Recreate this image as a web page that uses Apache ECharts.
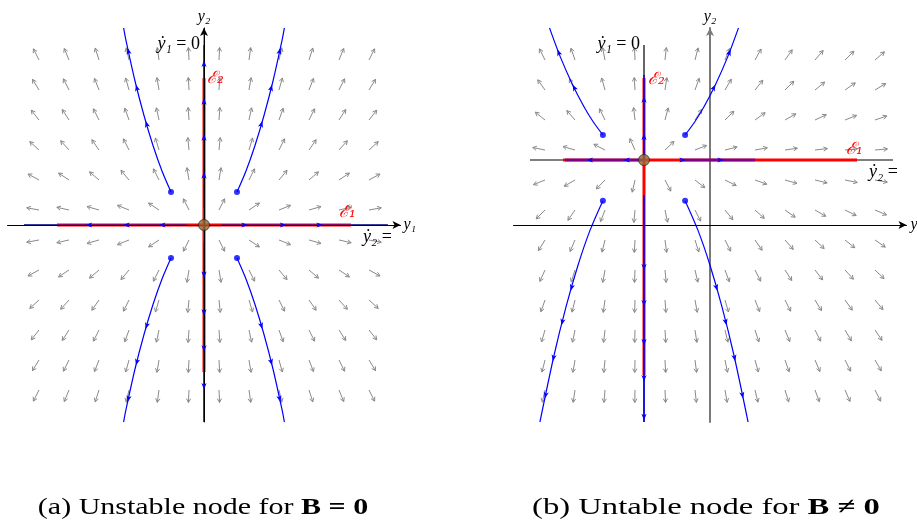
<!DOCTYPE html>
<html>
<head>
<meta charset="utf-8">
<script src="https://cdn.jsdelivr.net/npm/echarts@6/dist/echarts.min.js"></script>
<style>
  html, body { margin: 0; padding: 0; background: #fff; }
  #chart { width: 917px; height: 523px; }
</style>
</head>
<body>
<div id="chart"></div>
<script>
// Linear system  y' = diag(eigenvalues) * (y - y*), shown as a phase portrait
const eigenvalues = [1, 2];

// Tails of the direction-field arrows (same lattice in both panels)
const fieldCols = [-5.5, -4.5, -3.5, -2.5, -1.5, -0.5, 0.5, 1.5, 2.5, 3.5, 4.5, 5.5];
const fieldRows = [-5.5, -4.5, -3.5, -2.5, -1.5, -0.5, 0.5, 1.5, 2.5, 3.5, 4.5, 5.5];

// ---------- Panel (a): B = 0 ----------
const eqA = [0, 0];
const nullY1A = [[0, -6.57], [0, 6.0]];      // y1' = 0
const nullY2A = [[-6.0, 0], [6.13, 0]];      // y2' = 0
const eig1A = [[-4.9, 0], [4.9, 0]];         // E1
const eig2A = [[0, -4.9], [0, 4.9]];         // E2
const orbitsA = [
  [[1.1, 1.1], [1.4, 1.8], [1.7, 2.65], [2.0, 3.65], [2.3, 4.8], [2.6, 6.15], [2.68, 6.57]],
  [[-1.1, 1.1], [-1.4, 1.8], [-1.7, 2.65], [-2.0, 3.65], [-2.3, 4.8], [-2.6, 6.15], [-2.68, 6.57]],
  [[1.1, -1.1], [1.4, -1.8], [1.7, -2.65], [2.0, -3.65], [2.3, -4.8], [2.6, -6.15], [2.68, -6.57]],
  [[-1.1, -1.1], [-1.4, -1.8], [-1.7, -2.65], [-2.0, -3.65], [-2.3, -4.8], [-2.6, -6.15], [-2.68, -6.57]]
];
const orbitArrowsA = [[0.42, 0.64, 0.86], [0.42, 0.64, 0.86], [0.42, 0.64, 0.86], [0.42, 0.64, 0.86]];
const axisOrbitsA = [
  [[0, 0.57], [0, 6.57]],
  [[0, -0.57], [0, -6.57]],
  [[-0.57, 0], [-6.0, 0]],
  [[0.57, 0], [6.13, 0]]
];
const axisOrbitArrowsA = [[0.18, 0.39, 0.59, 0.8], [0.18, 0.39, 0.59, 0.8], [0.15, 0.37, 0.6], [0.14, 0.37, 0.59]];

// ---------- Panel (b): B != 0 ----------
const eqB = [-2.2, 2.167];
const nullY1B = [[-2.2, -6.57], [-2.2, 6.0]];
const nullY2B = [[-6.0, 2.167], [6.1, 2.167]];
const eig1B = [[-4.9, 2.167], [4.9, 2.167]];
const eig2B = [[-2.2, -5.0], [-2.2, 4.9]];
const orbitsB = [
  [[-0.83, 3.0], [-0.5, 3.45], [-0.2, 3.94], [0.2, 4.72], [0.6, 5.63], [0.95, 6.57]],
  [[-3.57, 3.0], [-3.9, 3.45], [-4.2, 3.94], [-4.6, 4.72], [-5.0, 5.63], [-5.35, 6.57]],
  [[-0.83, 0.81], [-0.4, -0.18], [0.0, -1.34], [0.4, -2.73], [0.8, -4.35], [1.27, -6.57]],
  [[-3.57, 0.81], [-4.0, -0.18], [-4.4, -1.34], [-4.8, -2.73], [-5.2, -4.35], [-5.67, -6.57]]
];
const orbitArrowsB = [[0.46, 0.78], [0.46, 0.78], [0.4, 0.555, 0.715, 0.88], [0.4, 0.555, 0.715, 0.88]];
const axisOrbitsB = [
  [[-2.2, 2.167], [-2.2, 5.0]],
  [[-2.2, 1.0], [-2.2, -6.57]],
  [[-2.2, 2.167], [-4.83, 2.167]],
  [[-0.95, 2.167], [1.5, 2.167]]
];
const axisOrbitArrowsB = [[0.27, 0.71], [0.317, 0.476, 0.647, 0.806, 0.977], [0.216, 0.684], [0.01, 0.53]];

// ---------- styling ----------
const SERIF = "'Liberation Serif', 'DejaVu Serif', serif";
const BLUE = '#0000ff', RED = '#ff0000', GRAY = '#8a8a8a';
const RICH = {
  i: { fontFamily: SERIF, fontStyle: 'italic', fontSize: 18 },
  s: { fontFamily: SERIF, fontSize: 18 },
  e: { fontFamily: "'DejaVu Serif', serif", fontStyle: 'italic', fontSize: 17 }
};

function seg(gi, pts, color, width, z, extra) {
  return Object.assign({
    type: 'line', xAxisIndex: gi, yAxisIndex: gi, data: pts,
    showSymbol: false, symbol: 'none', silent: true, z: z, animation: false,
    lineStyle: { color: color, width: width }
  }, extra || {});
}

function fieldSeries(gi, eq) {
  const pts = [];
  fieldRows.forEach(y => fieldCols.forEach(x => pts.push([x, y])));
  return {
    type: 'custom', xAxisIndex: gi, yAxisIndex: gi, z: 1, silent: true, animation: false,
    data: pts,
    renderItem(params, api) {
      const x = api.value(0), y = api.value(1);
      const p = api.coord([x, y]);
      const q = api.coord([x + eigenvalues[0] * (x - eq[0]) * 0.01, y + eigenvalues[1] * (y - eq[1]) * 0.01]);
      let dx = q[0] - p[0], dy = q[1] - p[1];
      const n = Math.hypot(dx, dy) || 1; dx /= n; dy /= n;
      const L = 12.5, h = 4.4, a = 0.5;
      const tip = [p[0] + dx * L, p[1] + dy * L];
      const bx = -dx, by = -dy, c = Math.cos(a), s = Math.sin(a);
      const w1 = [tip[0] + h * (bx * c - by * s), tip[1] + h * (bx * s + by * c)];
      const w2 = [tip[0] + h * (bx * c + by * s), tip[1] + h * (-bx * s + by * c)];
      return {
        type: 'group', children: [
          { type: 'line', shape: { x1: p[0], y1: p[1], x2: tip[0], y2: tip[1] }, style: { stroke: GRAY, lineWidth: 1 } },
          { type: 'polyline', shape: { points: [w1, tip, w2] }, style: { stroke: GRAY, lineWidth: 1, fill: null } }
        ]
      };
    }
  };
}

function arrowHeads(gi, paths, fractions) {
  const items = [];
  paths.forEach((pth, k) => fractions[k].forEach(f => items.push([k, f])));
  return {
    type: 'custom', xAxisIndex: gi, yAxisIndex: gi, z: 6, silent: true, animation: false,
    data: items,
    renderItem(params, api) {
      const it = items[params.dataIndex];
      const px = paths[it[0]].map(v => api.coord(v));
      const lens = [];
      let total = 0;
      for (let i = 1; i < px.length; i++) {
        const l = Math.hypot(px[i][0] - px[i - 1][0], px[i][1] - px[i - 1][1]);
        lens.push(l); total += l;
      }
      let target = it[1] * total, i = 0;
      while (i < lens.length - 1 && target > lens[i]) { target -= lens[i]; i++; }
      const t = lens[i] ? target / lens[i] : 0;
      const pos = [px[i][0] + (px[i + 1][0] - px[i][0]) * t, px[i][1] + (px[i + 1][1] - px[i][1]) * t];
      const dx = (px[i + 1][0] - px[i][0]) / lens[i], dy = (px[i + 1][1] - px[i][1]) / lens[i];
      const nx = -dy, ny = dx;
      const tip = [pos[0] + dx * 3.5, pos[1] + dy * 3.5];
      const back = [pos[0] - dx * 3, pos[1] - dy * 3];
      const notch = [pos[0] - dx * 1.4, pos[1] - dy * 1.4];
      return {
        type: 'polygon',
        shape: { points: [tip, [back[0] + nx * 2.6, back[1] + ny * 2.6], notch, [back[0] - nx * 2.6, back[1] - ny * 2.6]] },
        style: { fill: BLUE }
      };
    }
  };
}

function labels(gi, items) {
  return {
    type: 'custom', xAxisIndex: gi, yAxisIndex: gi, z: 9, silent: true, animation: false,
    data: items.map(it => it.at),
    renderItem(params, api) {
      const it = items[params.dataIndex];
      const p = api.coord([api.value(0), api.value(1)]);
      return {
        type: 'text', x: p[0] + it.dx, y: p[1] + it.dy,
        style: {
          text: it.text, rich: RICH, fill: it.color || '#000',
          fontFamily: SERIF, fontSize: 18, align: it.align || 'left', verticalAlign: 'middle'
        }
      };
    }
  };
}

function dots(gi, orbits) {
  return {
    type: 'scatter', xAxisIndex: gi, yAxisIndex: gi, z: 7, silent: true, animation: false,
    symbolSize: 6, itemStyle: { color: BLUE },
    data: orbits.map(o => o[0])
  };
}

function node(gi, eq) {
  return {
    type: 'scatter', xAxisIndex: gi, yAxisIndex: gi, z: 8, silent: true, animation: false,
    symbolSize: 11, itemStyle: { color: '#9a6a35', borderColor: '#2a2a2a', borderWidth: 1 },
    data: [eq]
  };
}

function axisPair(gi, yColor, yWidth, z, xNameGap) {
  const nameStyle = { fontFamily: SERIF, fontStyle: 'italic', fontSize: 16, color: '#000' };
  const common = {
    gridIndex: gi, type: 'value', z: z,
    axisTick: { show: false }, axisLabel: { show: false }, splitLine: { show: false }
  };
  return {
    x: Object.assign({}, common, {
      min: -6.55, max: 6.55, name: 'y₁', nameLocation: 'end', nameGap: xNameGap,
      nameTextStyle: nameStyle,
      axisLine: { onZero: true, symbol: ['none', 'arrow'], symbolSize: [6, 8], lineStyle: { color: '#000', width: 1 } }
    }),
    y: Object.assign({}, common, {
      min: -6.567, max: 6.567, name: 'y₂', nameLocation: 'end', nameGap: 3,
      nameTextStyle: nameStyle,
      axisLine: { onZero: true, symbol: ['none', 'arrow'], symbolSize: [6, 8], lineStyle: { color: yColor, width: yWidth } }
    })
  };
}

const axA = axisPair(0, '#000', 1, 5, 3);
const axB = axisPair(1, '#7a7a7a', 2, 0, 4);

const series = [
  // panel (a)
  fieldSeries(0, eqA),
  seg(0, nullY1A, '#000', 1.2, 2),
  seg(0, nullY2A, '#333', 1.6, 2),
  seg(0, eig1A, RED, 3, 3),
  seg(0, eig2A, RED, 3, 3),
  ...axisOrbitsA.map(o => seg(0, o, BLUE, 1.6, 4, { lineStyle: { color: BLUE, width: 1.6, opacity: 0.55 } })),
  ...orbitsA.map(o => seg(0, o, BLUE, 1.2, 4, { smooth: 0.3 })),
  arrowHeads(0, orbitsA, orbitArrowsA),
  arrowHeads(0, axisOrbitsA, axisOrbitArrowsA),
  dots(0, orbitsA),
  node(0, eqA),
  labels(0, [
    { at: nullY1A[1], dx: -4, dy: -1, align: 'right', text: '{i|ẏ₁}{s| = 0}' },
    { at: nullY2A[1], dx: -25, dy: 12, text: '{i|ẏ₂}{s| =}' },
    { at: eig2A[1], dx: 3, dy: 1, color: RED, text: '{e|ℰ₂}' },
    { at: eig1A[1], dx: -12, dy: -12, color: RED, text: '{e|ℰ₁}' }
  ]),

  // panel (b)
  fieldSeries(1, eqB),
  seg(1, nullY1B, '#000', 1.2, 2),
  seg(1, nullY2B, '#000', 1.2, 2),
  seg(1, eig1B, RED, 3, 3),
  seg(1, eig2B, RED, 3, 3),
  seg(1, axisOrbitsB[0], BLUE, 1.5, 4),
  seg(1, axisOrbitsB[1], BLUE, 1.5, 4),
  seg(1, axisOrbitsB[2], BLUE, 3, 4, { lineStyle: { color: BLUE, width: 3, opacity: 0.5 } }),
  seg(1, axisOrbitsB[3], BLUE, 3, 4, { lineStyle: { color: BLUE, width: 3, opacity: 0.5 } }),
  ...orbitsB.map(o => seg(1, o, BLUE, 1.2, 4, { smooth: 0.3 })),
  arrowHeads(1, orbitsB, orbitArrowsB),
  arrowHeads(1, axisOrbitsB, axisOrbitArrowsB),
  dots(1, orbitsB),
  node(1, eqB),
  labels(1, [
    { at: nullY1B[1], dx: -4, dy: -1, align: 'right', text: '{i|ẏ₁}{s| = 0}' },
    { at: nullY2B[1], dx: -24, dy: 12, text: '{i|ẏ₂}{s| =}' },
    { at: eig2B[1], dx: 4, dy: 2, color: RED, text: '{e|ℰ₂}' },
    { at: eig1B[1], dx: -11, dy: -10, color: RED, text: '{e|ℰ₁}' }
  ])
];

const captionRich = {
  r: { fontFamily: SERIF, fontSize: 24, fill: '#000' },
  b: { fontFamily: SERIF, fontSize: 24, fontWeight: 'bold', fill: '#000' }
};

const chart = echarts.init(document.getElementById('chart'), null, { renderer: 'canvas' });
chart.setOption({
  animation: false,
  backgroundColor: '#fff',
  grid: [
    { left: 7.5, top: 28, width: 393, height: 394, outerBoundsMode: 'none', containLabel: false },
    { left: 513.5, top: 28, width: 393, height: 394, outerBoundsMode: 'none', containLabel: false }
  ],
  xAxis: [axA.x, axB.x],
  yAxis: [axA.y, axB.y],
  series: series,
  graphic: [
    { type: 'text', x: 203, y: 508, scaleX: 1.25,
      style: { text: '{r|(a) Unstable node for }{b|B = 0}', rich: captionRich, align: 'center', verticalAlign: 'middle' } },
    { type: 'text', x: 706, y: 508, scaleX: 1.36,
      style: { text: '{r|(b) Untable node for }{b|B ≠ 0}', rich: captionRich, align: 'center', verticalAlign: 'middle' } }
  ]
});
</script>
</body>
</html>
